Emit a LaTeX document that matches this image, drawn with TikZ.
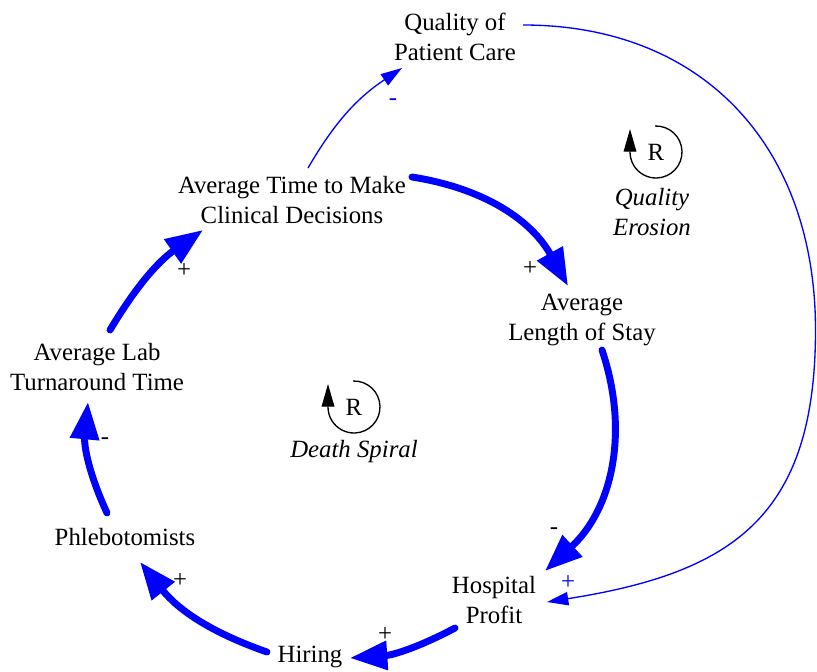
\documentclass[tikz,border=0pt]{standalone}
\usepackage{fontspec}
\setmainfont{Liberation Serif}
\usetikzlibrary{arrows.meta}
\begin{document}
\begin{tikzpicture}[x=0.75pt,y=0.75pt,
  var/.style={align=center, inner sep=0pt, font=\fontsize{18.6}{22.5}\selectfont},
  sgn/.style={inner sep=0pt, font=\fontsize{18.6}{22.5}\selectfont},
  bsgn/.style={sgn, text=blue},
  lname/.style={align=center, inner sep=0pt, font=\fontsize{18.6}{22.5}\selectfont\itshape},
  thickarr/.style={draw=blue, line width=5.2pt, line cap=round, -{Triangle[length=28pt,width=21pt]}},
  thinarr/.style={draw=blue, line width=1pt, -{Triangle[length=16pt,width=10pt]}},
  loopsym/.style={draw=black, line width=1pt, -{Triangle[length=17pt,width=9.5pt]}},
]
\useasboundingbox (0,0) rectangle (817,-671);

% variables
\node[var] (QPC) at (455,-37)  {Quality of\\Patient Care};
\node[var] (ATM) at (292,-200) {Average Time to Make\\Clinical Decisions};
\node[var] (ALS) at (582,-320) {Average\\Length of Stay};
\node[var] (ALT) at (97,-367)  {Average Lab\\Turnaround Time};
\node[var] (PHL) at (125,-537) {Phlebotomists};
\node[var] (HIR) at (310,-657) {Hiring};
\node[var] (HP)  at (494,-600) {Hospital\\Profit};

% thick links (Death Spiral)
\draw[thickarr] ([shift={(120,23)}]ATM.center) to[bend left=26] ([shift={(-14,34)}]ALS.center);
\draw[thickarr] ([shift={(20,-30)}]ALS.center) to[bend left=33] ([shift={(51,29)}]HP.center);
\draw[thickarr] ([shift={(-39,-28)}]HP.center) to[bend left=12] ([shift={(40,-1)}]HIR.center);
\draw[thickarr] ([shift={(-43,5)}]HIR.center) to[bend left=16] ([shift={(15,-25)}]PHL.center);
\draw[thickarr] ([shift={(-18,24)}]PHL.center) to[bend left=15] ([shift={(-9,-35)}]ALT.center);
\draw[thickarr] ([shift={(13,37)}]ALT.center) to[bend left=12] ([shift={(-89,-30)}]ATM.center);

% thin links (Quality Erosion)
\draw[thinarr] ([shift={(16,32)}]ATM.center) to[bend left=13] ([shift={(-53,-31)}]QPC.center);
\coordinate (rim) at (815.5,-330);
\draw[thinarr] ([shift={(68,12)}]QPC.center) to[out=0,in=90,looseness=1.1] (rim)
   to[out=-90,in=9,looseness=1.25] ([shift={(53,-2)}]HP.center);

% polarity signs
\node[sgn] (s1) at (530,-268) {+};
\node[sgn] (s2) at (554,-531) {-};
\node[sgn] (s3) at (385,-634) {+};
\node[sgn] (s4) at (180,-580) {+};
\node[sgn] (s5) at (105,-441) {-};
\node[sgn] (s6) at (184,-270) {+};
\node[bsgn] (s7) at (393,-102) {-};
\node[bsgn] (s8) at (568,-582) {+};

% loop symbols
\node[sgn] (RQ) at (656,-152) {R};
\draw[loopsym] (RQ.center) ++(92:26) arc[start angle=92,end angle=-180,radius=26] -- ++(0,23);
\node[lname] (LQ) at (652,-212) {Quality\\Erosion};

\node[sgn] (RD) at (354,-407) {R};
\draw[loopsym] (RD.center) ++(92:26) arc[start angle=92,end angle=-180,radius=26] -- ++(0,23);
\node[lname] (LD) at (354,-452) {Death Spiral};
\end{tikzpicture}
\end{document}
